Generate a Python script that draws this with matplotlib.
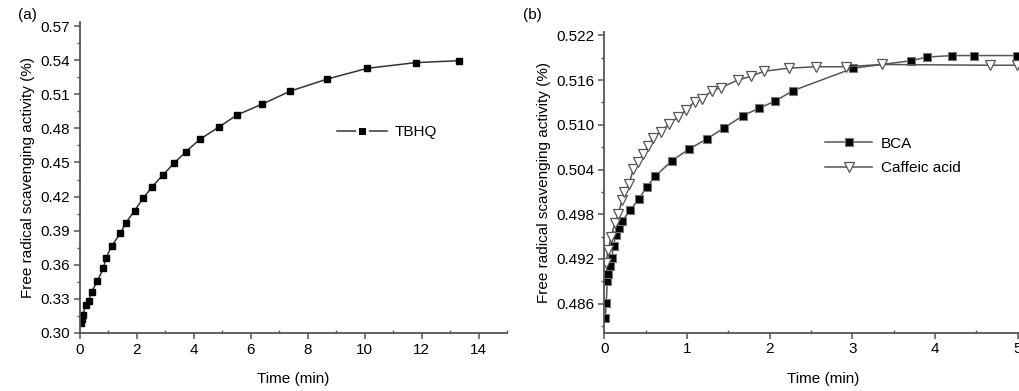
import numpy as np
import matplotlib.pyplot as plt
from matplotlib.ticker import MultipleLocator
from matplotlib.lines import Line2D

plt.rcParams['font.family'] = ['Liberation Sans', 'DejaVu Sans']

# (a) TBHQ
t_tbhq = [0.02, 0.06, 0.09, 0.21, 0.30, 0.41, 0.61, 0.82, 0.91, 1.11, 1.42, 1.61,
          1.92, 2.22, 2.53, 2.91, 3.31, 3.72, 4.21, 4.90, 5.51, 6.41, 7.39, 8.69,
          10.09, 11.79, 13.30]
y_tbhq = [0.3085, 0.3120, 0.3158, 0.3246, 0.3284, 0.3364, 0.3457, 0.3569, 0.3657,
          0.3765, 0.3877, 0.3970, 0.4076, 0.4187, 0.4284, 0.4390, 0.4495, 0.4595,
          0.4703, 0.4815, 0.4917, 0.5014, 0.5128, 0.5234, 0.5328, 0.5378, 0.5395]

# (b) BCA
t_bca = [0.012, 0.024, 0.036, 0.048, 0.069, 0.089, 0.113, 0.137, 0.177, 0.218,
         0.315, 0.415, 0.516, 0.617, 0.819, 1.02, 1.238, 1.452, 1.673, 1.867,
         2.069, 2.286, 3.012, 3.706, 3.907, 4.21, 4.47, 4.99]
y_bca = [0.4841, 0.4861, 0.4891, 0.4900, 0.4911, 0.4921, 0.4938, 0.4952, 0.4961,
         0.4971, 0.4986, 0.5000, 0.5017, 0.5031, 0.5052, 0.5067, 0.5081, 0.5096,
         0.5112, 0.5122, 0.5132, 0.5146, 0.5176, 0.5186, 0.5191, 0.5193, 0.5193,
         0.5193]

# (b) Caffeic acid
t_caf = [0.02, 0.048, 0.081, 0.13, 0.17, 0.214, 0.242, 0.302, 0.351, 0.411, 0.472,
         0.528, 0.585, 0.685, 0.782, 0.891, 0.988, 1.093, 1.181, 1.306, 1.415,
         1.613, 1.77, 1.935, 2.23, 2.56, 2.93, 3.355, 4.665, 4.99]
y_caf = [0.4915, 0.4932, 0.4950, 0.4968, 0.4980, 0.4999, 0.5010, 0.5021, 0.5041,
         0.5050, 0.5061, 0.5071, 0.5082, 0.5091, 0.5101, 0.5110, 0.5120, 0.5131,
         0.5135, 0.5146, 0.5150, 0.5160, 0.5165, 0.5172, 0.5176, 0.5178, 0.5178,
         0.5181, 0.5180, 0.5180]

fs = 11
axcol = '#555555'

fig = plt.figure(figsize=(10.19, 3.91), dpi=100)
ax1 = fig.add_axes([80 / 1019, 58 / 391, 427 / 1019, 311.3 / 391])
ax2 = fig.add_axes([604.3 / 1019, 58.3 / 391, 438 / 1019, 301 / 391])


def style(ax):
    for s in ['top', 'right']:
        ax.spines[s].set_visible(False)
    for s in ['left', 'bottom']:
        ax.spines[s].set_color(axcol)
        ax.spines[s].set_linewidth(1.3)
    ax.tick_params(which='major', direction='out', length=4, width=1.1,
                   color=axcol, labelsize=fs, pad=3)
    ax.tick_params(axis='x', which='minor', direction='in', length=2.5, width=1.0,
                   color=axcol)
    ax.tick_params(axis='y', which='minor', direction='out', length=2.5, width=1.0,
                   color=axcol)
    ax.set_xlabel('Time (min)', fontsize=fs, labelpad=11)
    ax.set_ylabel('Free radical scavenging activity (%)', fontsize=fs, labelpad=4)


# panel a
ax1.plot(t_tbhq, y_tbhq, color='#333333', lw=1.1, marker='s', ms=5,
         mfc='black', mec='black')
ax1.set_xlim(0, 15)
ax1.set_ylim(0.30, 0.5738)
ax1.xaxis.set_major_locator(MultipleLocator(2))
ax1.xaxis.set_minor_locator(MultipleLocator(1))
ax1.set_yticks(np.arange(0.30, 0.571, 0.03))
ax1.set_yticklabels(['%.2f' % v for v in np.arange(0.30, 0.571, 0.03)])
ax1.yaxis.set_minor_locator(MultipleLocator(0.015))
style(ax1)
# legend handle with small gaps either side of the marker
h_tbhq = Line2D([], [], color='#333333', lw=1.1, marker='s', ms=7.5,
                mfc='black', mec='white', mew=2.2)
ax1.legend([h_tbhq], ['TBHQ'], loc='center left', bbox_to_anchor=(0.602, 0.646),
           frameon=False, fontsize=fs, handlelength=3.3, handletextpad=0.5,
           borderpad=0, borderaxespad=0)
fig.text(18 / 1019, 1 - 15 / 391, '(a)', fontsize=fs, va='center', ha='left')

# panel b
ax2.plot(t_bca, y_bca, color='#555555', lw=1.1, marker='s', ms=5.5,
         mfc='black', mec='#777777', mew=0.8, label='BCA')
ax2.plot(t_caf, y_caf, color='#555555', lw=1.1, marker='v', ms=6.5,
         mfc='white', mec='#555555', mew=0.9, label='Caffeic acid')
ax2.set_xlim(0, 5.3)
ax2.set_ylim(0.4821, 0.5225)
ax2.xaxis.set_major_locator(MultipleLocator(1))
ax2.xaxis.set_minor_locator(MultipleLocator(0.5))
ax2.set_yticks(np.arange(0.486, 0.5221, 0.006))
ax2.set_yticklabels(['%.3f' % v for v in np.arange(0.486, 0.5221, 0.006)])
ax2.yaxis.set_minor_locator(MultipleLocator(0.003))
style(ax2)
ax2.legend(loc='center left', bbox_to_anchor=(0.504, 0.587), frameon=False,
           fontsize=fs, handlelength=3.1, handletextpad=0.55, labelspacing=0.7,
           borderpad=0, borderaxespad=0)
fig.text(523 / 1019, 1 - 15 / 391, '(b)', fontsize=fs, va='center', ha='left')

fig.savefig('out.png', dpi=100)
